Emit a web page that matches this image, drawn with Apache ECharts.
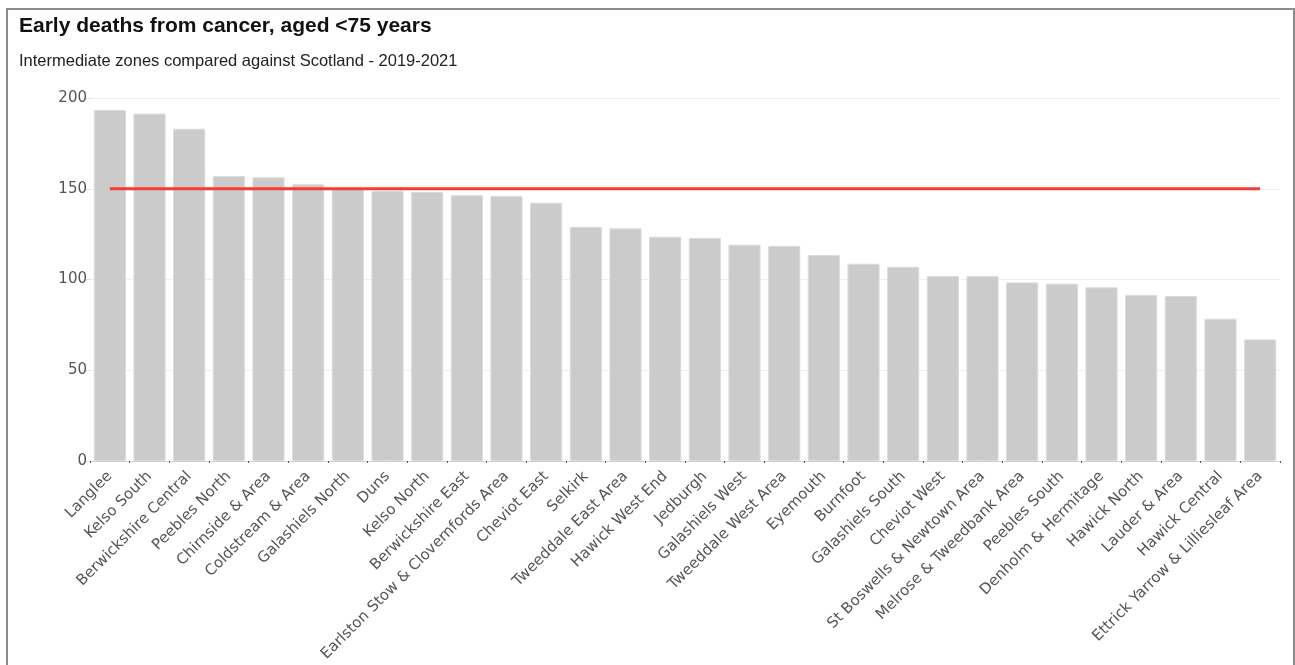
<!DOCTYPE html>
<html>
<head>
<meta charset="utf-8">
<title>Early deaths from cancer</title>
<script src="https://cdn.jsdelivr.net/npm/echarts@6/dist/echarts.min.js"></script>
<style>
  html, body { margin: 0; padding: 0; background: #fff; overflow: hidden; }
  #frame {
    position: absolute; left: 6px; top: 8px; width: 1289px; height: 700px;
    border: 2px solid #8c8c8c; box-sizing: border-box;
  }
  #main { position: absolute; left: 0; top: 0; width: 1295px; height: 665px; }
</style>
</head>
<body>
<div id="frame"></div>
<div id="main"></div>
<script>
// intermediate zones, sorted as in the chart
const zones = [
  'Langlee', 'Kelso South', 'Berwickshire Central', 'Peebles North', 'Chirnside & Area',
  'Coldstream & Area', 'Galashiels North', 'Duns', 'Kelso North', 'Berwickshire East',
  'Earlston Stow & Clovernfords Area', 'Cheviot East', 'Selkirk', 'Tweeddale East Area', 'Hawick West End',
  'Jedburgh', 'Galashiels West', 'Tweeddale West Area', 'Eyemouth', 'Burnfoot',
  'Galashiels South', 'Cheviot West', 'St Boswells & Newtown Area', 'Melrose & Tweedbank Area', 'Peebles South',
  'Denholm & Hermitage', 'Hawick North', 'Lauder & Area', 'Hawick Central', 'Ettrick Yarrow & Lilliesleaf Area'
]
// rate per zone
const rates = [
  193.4, 191.4, 183.1, 157.0, 156.3,
  152.5, 149.9, 148.8, 148.2, 146.4,
  146.0, 142.3, 129.0, 128.2, 123.6,
  122.9, 119.2, 118.5, 113.5, 108.7,
  107.0, 101.9, 101.9, 98.4, 97.7,
  95.7, 91.5, 90.9, 78.4, 67.0
]
// Scotland comparator
const scotland = 150
const yTicks = { min: 0, max: 200, interval: 50 }

const myChart = echarts.init(document.getElementById('main'))
const option = {
  animation: false,
  title: [
    {
      text: 'Early deaths from cancer, aged <75 years',
      left: 19,
      top: 16,
      padding: 0,
      textStyle: { fontFamily: 'Liberation Sans', fontSize: 21, fontWeight: 'bold', color: '#111' }
    },
    {
      text: 'Intermediate zones compared against Scotland - 2019-2021',
      left: 19,
      top: 53,
      padding: 0,
      textStyle: { fontFamily: 'Liberation Sans', fontSize: 16.5, fontWeight: 'normal', color: '#222' }
    }
  ],
  grid: {
    left: 90,
    right: 15,
    top: 98,
    bottom: 204
  },
  xAxis: {
    type: 'category',
    data: zones,
    axisLine: { lineStyle: { color: '#cfcfcf' } },
    axisTick: { show: true, alignWithLabel: false, length: 2, lineStyle: { color: '#555' } },
    axisLabel: {
      interval: 0,
      rotate: 45,
      margin: 13,
      fontFamily: 'DejaVu Sans',
      fontSize: 15,
      color: '#555'
    }
  },
  yAxis: {
    type: 'value',
    min: yTicks.min,
    max: yTicks.max,
    interval: yTicks.interval,
    axisLine: { show: false },
    axisTick: { show: true, length: 4, lineStyle: { color: '#ddd' } },
    splitLine: { lineStyle: { color: '#eeeeee' } },
    axisLabel: {
      margin: 3,
      fontFamily: 'DejaVu Sans',
      fontSize: 15,
      color: '#555'
    }
  },
  series: [
    {
      name: 'Intermediate zone',
      type: 'bar',
      barCategoryGap: '19%',
      itemStyle: { color: '#cbcbcb', borderColor: '#dcdcdc', borderWidth: 1 },
      data: rates
    },
    {
      name: 'Scotland',
      type: 'line',
      symbol: 'none',
      z: 5,
      lineStyle: { color: '#f43a3a', width: 3 },
      data: [[zones[0], scotland], [zones[zones.length - 1], scotland]]
    }
  ]
}
myChart.setOption(option, true)
</script>
</body>
</html>
